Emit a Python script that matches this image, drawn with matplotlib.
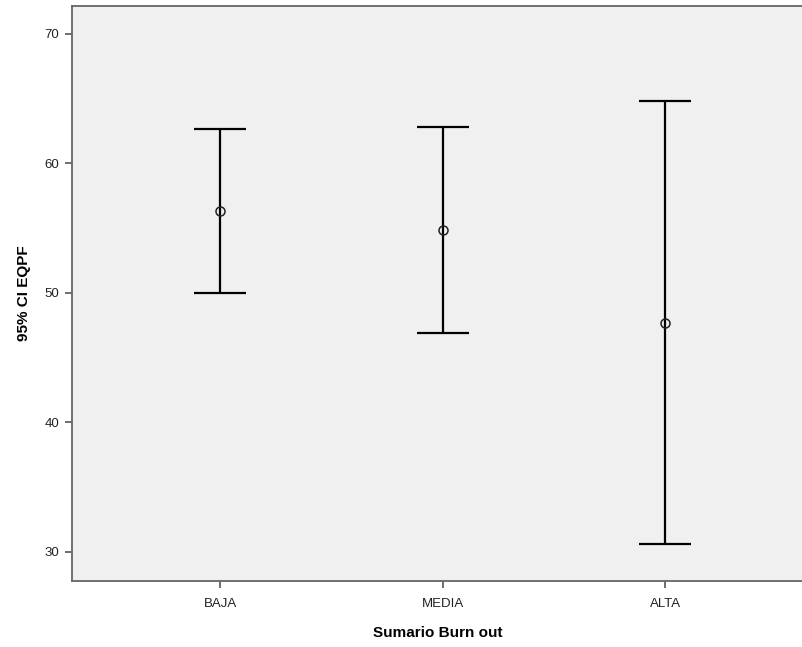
import matplotlib
matplotlib.use("Agg")
import matplotlib.pyplot as plt
import numpy as np

# 95% CI of EQPF per burn-out level
categories = ["BAJA", "MEDIA", "ALTA"]
means = [56.33, 54.86, 47.71]
lower = [50.02, 46.89, 30.59]
upper = [62.64, 62.84, 64.83]
yticks = [30, 40, 50, 60, 70]

plt.rcParams["font.family"] = ["Liberation Sans", "DejaVu Sans"]

fig = plt.figure(figsize=(8.03, 6.47), dpi=100)
ax = fig.add_axes([72 / 803, 66 / 647, 1 - 72 / 803, 575 / 647])
ax.set_facecolor("#f0f0f0")

x = np.arange(1, len(categories) + 1)
m = np.array(means)
yerr = np.vstack([m - np.array(lower), np.array(upper) - m])
ax.errorbar(x, m, yerr=yerr, fmt="none", ecolor="black", elinewidth=1.6,
            capsize=18.5, capthick=1.6, zorder=2)
ax.plot(x, m, "o", ms=6.5, mfc="none", mec="#222222", mew=1.1, zorder=3)

ax.set_xlim(0.335, 0.335 + 731 / 222.7)
ax.set_ylim(27.76, 72.16)
ax.set_xticks(x)
ax.set_xticklabels(categories, fontsize=9.5, color="#222222")
ax.set_yticks(yticks)
ax.set_yticklabels([str(v) for v in yticks], fontsize=9.5, color="#222222")
ax.tick_params(length=5, width=1.2, color="#555555", pad=4)
ax.tick_params(axis="x", pad=7)

for side in ("left", "bottom", "top"):
    ax.spines[side].set_color("#666666")
    ax.spines[side].set_linewidth(1.3)
ax.spines["right"].set_visible(False)

ax.set_xlabel("Sumario Burn out", fontsize=11, fontweight="bold", labelpad=12)
ax.set_ylabel("95% CI EQPF", fontsize=11, fontweight="bold", labelpad=10)

fig.savefig("out.png", dpi=100)
